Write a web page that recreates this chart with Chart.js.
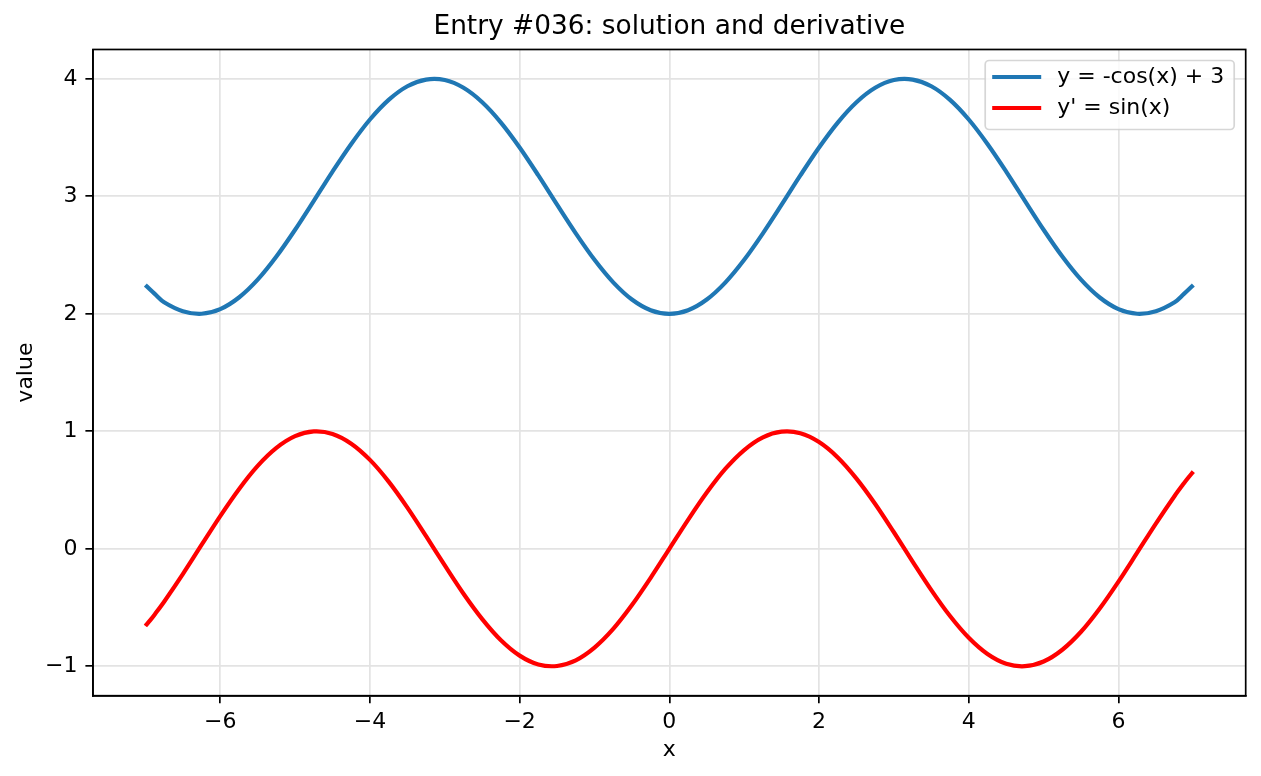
<!DOCTYPE html>
<html>
<head>
<meta charset="utf-8">
<script src="https://cdn.jsdelivr.net/npm/chart.js@4.4.1/dist/chart.umd.min.js"></script>
<style>
  html, body { margin: 0; padding: 0; background: #ffffff; }
  #wrap { width: 1261px; height: 776px; }
</style>
</head>
<body>
<div id="wrap"><canvas id="c" width="1261" height="776"></canvas></div>
<script>
// ---- data ----
const xValues = [
  -7, -6.9375, -6.875, -6.75, -6.5, -6.25, -6, -5.75, -5.5, -5.25, -5, -4.75, -4.5, -4.25, -4,
  -3.75, -3.5, -3.25, -3, -2.75, -2.5, -2.25, -2, -1.75, -1.5, -1.25, -1,
  -0.75, -0.5, -0.25, 0, 0.25, 0.5, 0.75, 1, 1.25, 1.5, 1.75, 2, 2.25, 2.5, 2.75,
  3, 3.25, 3.5, 3.75, 4, 4.25, 4.5, 4.75, 5, 5.25, 5.5, 5.75, 6, 6.25,
  6.5, 6.75, 6.875, 6.9375, 7
];
const solutionValues = [
  2.246, 2.207, 2.170, 2.099, 2.023, 2.001, 2.040, 2.139, 2.291, 2.488, 2.716, 2.962, 3.211, 3.446, 3.654,
  3.821, 3.937, 3.994, 3.990, 3.924, 3.801, 3.628, 3.416, 3.178, 2.929, 2.685, 2.460,
  2.268, 2.122, 2.031, 2.000, 2.031, 2.122, 2.268, 2.460, 2.685, 2.929, 3.178, 3.416, 3.628, 3.801, 3.924,
  3.990, 3.994, 3.937, 3.821, 3.654, 3.446, 3.211, 2.962, 2.716, 2.488, 2.291, 2.139, 2.040, 2.001,
  2.023, 2.099, 2.170, 2.207, 2.246
];
const derivativeValues = [
  -0.657, -0.609, -0.558, -0.450, -0.215, 0.033, 0.279, 0.508, 0.706, 0.859, 0.959, 0.999, 0.978, 0.895, 0.757,
  0.572, 0.351, 0.108, -0.141, -0.382, -0.598, -0.778, -0.909, -0.984, -0.997, -0.949, -0.841,
  -0.682, -0.479, -0.247, 0.000, 0.247, 0.479, 0.682, 0.841, 0.949, 0.997, 0.984, 0.909, 0.778, 0.598, 0.382,
  0.141, -0.108, -0.351, -0.572, -0.757, -0.895, -0.978, -0.999, -0.959, -0.859, -0.706, -0.508, -0.279, -0.033,
  0.215, 0.450, 0.558, 0.609, 0.657
];
const seriesLabels = ['y = -cos(x) + 3', "y' = sin(x)"];
const xTicks = [-6, -4, -2, 0, 2, 4, 6];
const xTickLabels = ['\u22126', '\u22124', '\u22122', '0', '2', '4', '6'];
const yTicks = [-1, 0, 1, 2, 3, 4];
const yTickLabels = ['\u22121', '0', '1', '2', '3', '4'];
const titleText = 'Entry #036: solution and derivative';
const xAxisLabel = 'x';
const yAxisLabel = 'value';

// ---- styling ----
const FONT = 'DejaVu Sans';
const TICK_SIZE = 22;
const LINE_W = 4.2;
const colors = ['#1f77b4', '#ff0000'];

function toPoints(ys) { return xValues.map((x, i) => ({ x: x, y: ys[i] })); }

const framePlugin = {
  id: 'frame',
  afterDatasetsDraw(chart) {
    const a = chart.chartArea, ctx = chart.ctx;
    ctx.save();
    ctx.strokeStyle = '#000';
    ctx.lineWidth = 1.7;
    ctx.strokeRect(a.left, a.top, a.right - a.left, a.bottom - a.top);
    ctx.restore();
  }
};

const legendPlugin = {
  id: 'mplLegend',
  afterDraw(chart) {
    const a = chart.chartArea, ctx = chart.ctx;
    const w = 249, h = 69;
    const bx = a.right - 11.5 - w, by = a.top + 11;
    ctx.save();
    ctx.beginPath();
    ctx.roundRect(bx, by, w, h, 4);
    ctx.fillStyle = 'rgba(255,255,255,0.8)';
    ctx.fill();
    ctx.strokeStyle = 'rgba(204,204,204,0.8)';
    ctx.lineWidth = 1.7;
    ctx.stroke();
    const rows = [by + 16.5, by + 47.5];
    chart.data.datasets.forEach((ds, i) => {
      const y = rows[i];
      ctx.beginPath();
      ctx.moveTo(bx + 7, y);
      ctx.lineTo(bx + 56, y);
      ctx.strokeStyle = ds.borderColor;
      ctx.lineWidth = LINE_W;
      ctx.stroke();
      ctx.fillStyle = '#000';
      ctx.font = TICK_SIZE + 'px "' + FONT + '"';
      ctx.textBaseline = 'middle';
      ctx.textAlign = 'left';
      ctx.fillText(ds.label, bx + 72, y);
    });
    ctx.restore();
  }
};

const tickFont = { family: FONT, size: TICK_SIZE, weight: 'normal' };

new Chart(document.getElementById('c'), {
  type: 'line',
  data: {
    datasets: [
      { label: seriesLabels[0], data: toPoints(solutionValues), borderColor: colors[0], backgroundColor: colors[0],
        borderWidth: LINE_W, pointRadius: 0, tension: 0.33, fill: false, borderCapStyle: 'butt' },
      { label: seriesLabels[1], data: toPoints(derivativeValues), borderColor: colors[1], backgroundColor: colors[1],
        borderWidth: LINE_W, pointRadius: 0, tension: 0.33, fill: false, borderCapStyle: 'butt' }
    ]
  },
  options: {
    responsive: false,
    animation: false,
    devicePixelRatio: 1,
    layout: { padding: { left: 0, right: 15.3, top: 0, bottom: 0 } },
    plugins: {
      legend: { display: false },
      tooltip: { enabled: false },
      title: {
        display: true, text: titleText, color: '#000', fullSize: false,
        font: { family: FONT, size: 26.4, weight: 'normal' },
        padding: { top: 11.4, bottom: 6.4 }
      }
    },
    scales: {
      x: {
        type: 'linear', min: -7.7, max: 7.7,
        afterBuildTicks(s) { s.ticks = xTicks.map(v => ({ value: v })); },
        afterFit(s) { s.height = 80.3; },
        ticks: { callback: (v, i) => xTickLabels[i], font: tickFont, color: '#000', padding: 6, maxRotation: 0, autoSkip: false },
        grid: { color: '#e3e3e3', lineWidth: 1.7, tickColor: '#000', tickLength: 7.6, tickWidth: 1.7 },
        border: { display: true, color: '#000', width: 1.7 },
        title: { display: true, text: xAxisLabel, color: '#000', font: tickFont, padding: 12.5 }
      },
      y: {
        type: 'linear', min: -1.25, max: 4.25,
        afterBuildTicks(s) { s.ticks = yTicks.map(v => ({ value: v })); },
        afterFit(s) { s.width = 93; },
        ticks: { callback: (v, i) => yTickLabels[i], font: tickFont, color: '#000', padding: 8, autoSkip: false },
        grid: { color: '#e3e3e3', lineWidth: 1.7, tickColor: '#000', tickLength: 7.6, tickWidth: 1.7 },
        border: { display: true, color: '#000', width: 1.7 },
        title: { display: true, text: yAxisLabel, color: '#000', font: tickFont, padding: 13 }
      }
    }
  },
  plugins: [framePlugin, legendPlugin]
});
</script>
</body>
</html>
